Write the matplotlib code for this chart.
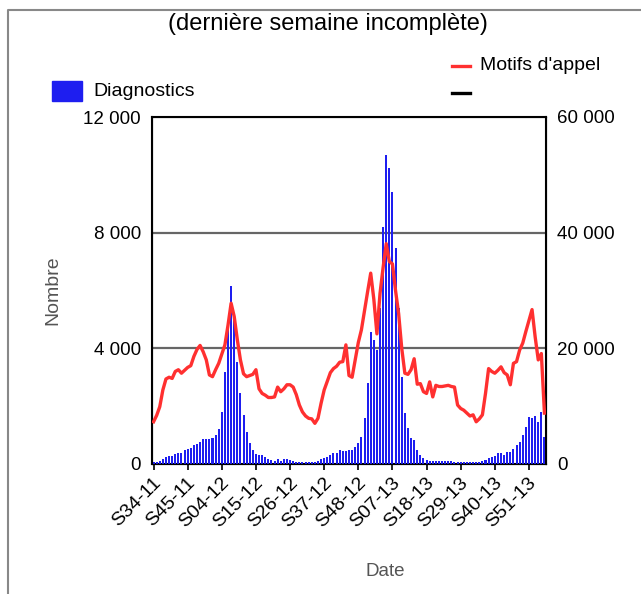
import matplotlib
matplotlib.use('Agg')
import matplotlib.pyplot as plt
import matplotlib.transforms as mtransforms
import numpy as np
from matplotlib.lines import Line2D
from matplotlib.patches import Rectangle

plt.rcParams['font.family'] = ['Liberation Sans', 'DejaVu Sans']

# tick labels every 11 weeks, first week is S34-11
tick_labels = ['S34-11', 'S45-11', 'S04-12', 'S15-12', 'S26-12', 'S37-12',
               'S48-12', 'S07-13', 'S18-13', 'S29-13', 'S40-13', 'S51-13']

# Diagnostics (left axis), one value per week
diagnostics = [
    80, 60, 115, 170, 230, 275, 290, 335, 390, 370,
    480, 520, 560, 640, 700, 760, 880, 860, 860, 890,
    1000, 1200, 1810, 3190, 4870, 6170, 5040, 3540, 2445, 1695,
    1120, 740, 480, 340, 310, 300, 230, 180, 140, 115,
    160, 115, 170, 160, 140, 90, 80, 80, 80, 75,
    80, 75, 80, 110, 170, 200, 250, 310, 390, 370,
    480, 460, 460, 500, 480, 600, 715, 945, 1600, 2790,
    4580, 4290, 3945, 5390, 8210, 10690, 10230, 9420, 7460, 5390,
    3000, 1750, 1230, 910, 830, 485, 310, 200, 140, 115,
    120, 100, 110, 95, 105, 90, 100, 85, 80, 70,
    60, 55, 65, 55, 60, 75, 90, 150, 200, 250,
    290, 370, 390, 320, 430, 400, 520, 650, 770, 1000,
    1290, 1640, 1580, 1660, 1460, 1800, 930,
]

# Motifs d'appel (right axis)
motifs = [
    7300, 8400, 9900, 12800, 14700, 15000, 14800, 16000, 16300, 15700,
    16200, 16700, 17000, 18600, 19800, 20500, 19400, 18000, 15400, 15100,
    16300, 17400, 19000, 20600, 24000, 27800, 25500, 21500, 18000, 15600,
    15100, 15300, 15500, 16300, 13000, 12200, 11900, 11500, 11500, 11600,
    13300, 12500, 13000, 13700, 13700, 13300, 12000, 10200, 9000, 8300,
    7900, 7800, 7030, 7900, 10500, 12800, 14300, 15800, 16500, 16900,
    17600, 17700, 20600, 15300, 15000, 18000, 21000, 23200, 26500, 29800,
    33000, 28500, 22500, 29500, 34000, 38100, 35000, 34600, 30000, 26000,
    20000, 15700, 15500, 16300, 18200, 13800, 13900, 12500, 12200, 14200,
    11600, 13600, 13400, 13400, 13500, 13600, 13400, 13300, 10200, 9600,
    9300, 8800, 8300, 8500, 7300, 7800, 8500, 12200, 16500, 16000,
    15700, 16200, 16800, 15800, 15400, 13700, 17400, 17700, 19700, 20900,
    22900, 24800, 26700, 22000, 18000, 19100, 8800,
]

weeks = np.arange(len(diagnostics))
blue = '#1e1ef0'
red = '#ff3030'

fig = plt.figure(figsize=(6.41, 5.94), dpi=100)
ax = fig.add_axes([152 / 641, 1 - 464 / 594, 394 / 641, 347 / 594])

ax.bar(weeks, diagnostics, width=0.65, color=blue, zorder=3)
ax.set_xlim(-0.5, len(weeks) - 0.5)
ax.set_ylim(0, 12000)
ax.set_yticks([0, 4000, 8000, 12000])
ax.set_yticklabels(['0', '4 000', '8 000', '12 000'], fontsize=13.5)
for yv in [4000, 8000]:
    ax.axhline(yv, color='#666666', lw=1.6, zorder=1)
ax.tick_params(axis='y', length=0, pad=8)
ax.set_xticks(weeks[::11])
ax.set_xticklabels(tick_labels, rotation=45, ha='right', va='center',
                   rotation_mode='anchor', fontsize=14)
ax.tick_params(axis='x', length=4, width=1.2, pad=8)
shift = mtransforms.ScaledTranslation(5 / 100, 0, fig.dpi_scale_trans)
for lbl in ax.get_xticklabels():
    lbl.set_transform(lbl.get_transform() + shift)
for s in ax.spines.values():
    s.set_linewidth(1.5)
    s.set_color('black')

ax2 = ax.twinx()
ax2.plot(weeks, motifs, color=red, lw=2.4, zorder=4)
ax2.set_ylim(0, 60000)
ax2.set_yticks([0, 20000, 40000, 60000])
ax2.set_yticklabels(['0', '20 000', '40 000', '60 000'], fontsize=13.5)
ax2.tick_params(axis='y', length=0, pad=8)

fig.text(53 / 641, 1 - 290 / 594, 'Nombre', rotation=90, ha='center',
         va='center', fontsize=14, color='#555555')
fig.text(385 / 641, 1 - 571 / 594, 'Date', ha='center', va='center',
         fontsize=13.5, color='#555555')
fig.text(328 / 641, 1 - 24 / 594, '(dernière semaine incomplète)',
         ha='center', va='center', fontsize=17, color='black')

# legends
fig.add_artist(Rectangle((52 / 641, 1 - 101 / 594), 30 / 641, 20 / 594,
                         color=blue, transform=fig.transFigure))
fig.text(93 / 641, 1 - 92 / 594, 'Diagnostics', ha='left', va='center',
         fontsize=14)
fig.add_artist(Line2D([452 / 641, 470 / 641], [1 - 66 / 594, 1 - 66 / 594],
                      color=red, lw=2.4, transform=fig.transFigure))
fig.text(480 / 641, 1 - 65 / 594, "Motifs d'appel", ha='left', va='center',
         fontsize=14)
fig.add_artist(Line2D([452 / 641, 470 / 641], [1 - 93 / 594, 1 - 93 / 594],
                      color='black', lw=2.4, transform=fig.transFigure))

# outer frame (top and left edges visible)
fig.add_artist(Line2D([8 / 641, 8 / 641, 1.0], [0.0, 1 - 10 / 594, 1 - 10 / 594],
                      color='#888888', lw=1.5, transform=fig.transFigure))

fig.savefig('out.png', dpi=100)
